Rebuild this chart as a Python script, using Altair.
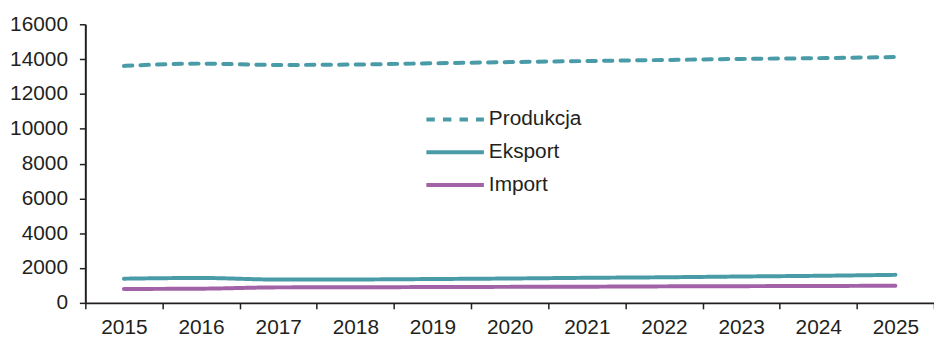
import altair as alt
import pandas as pd

years = ["2015", "2016", "2017", "2018", "2019", "2020", "2021", "2022", "2023", "2024", "2025"]
produkcja = [13610, 13740, 13665, 13690, 13760, 13830, 13890, 13950, 14010, 14055, 14120]
eksport = [1390, 1430, 1340, 1345, 1370, 1400, 1440, 1470, 1515, 1555, 1610]
import_ = [800, 815, 890, 895, 910, 920, 930, 948, 960, 970, 985]

series_names = ["Produkcja", "Eksport", "Import"]
series_colors = ["#4a9ba8", "#4a9ba8", "#a262a8"]
series_dash = [[8.5, 8.2], [1, 0], [1, 0]]

rows = []
for name, vals in zip(series_names, [produkcja, eksport, import_]):
    for y, v in zip(years, vals):
        rows.append({"year": y, "value": v, "series": name})
df = pd.DataFrame(rows)

FONT = "Liberation Sans"
AX = "#231f20"

chart = alt.Chart(df).mark_line(strokeWidth=4, strokeCap="round", interpolate="monotone").encode(
    x=alt.X("year:O", title=None, sort=years,
            scale=alt.Scale(paddingInner=0, paddingOuter=0),
            axis=alt.Axis(labelAngle=0, tickBand="extent", tickSize=6, tickWidth=1.5,
                          tickColor=AX, domainColor=AX, domainWidth=2,
                          labelFont=FONT, labelFontSize=21, labelColor=AX,
                          labelPadding=8, grid=False)),
    y=alt.Y("value:Q", title=None,
            scale=alt.Scale(domain=[0, 16000], nice=False),
            axis=alt.Axis(values=list(range(0, 16001, 2000)), format="d", tickSize=6, tickWidth=1.5,
                          tickColor=AX, domainColor=AX, domainWidth=2,
                          labelFont=FONT, labelFontSize=21, labelColor=AX,
                          labelPadding=12, grid=False)),
    color=alt.Color("series:N", sort=series_names,
                    scale=alt.Scale(domain=series_names, range=series_colors),
                    legend=alt.Legend(title=None, orient="none", legendX=342, legendY=86,
                                      symbolType="stroke", symbolSize=3364, symbolStrokeWidth=4,
                                      clipHeight=20, rowPadding=12, labelOffset=3,
                                      labelFont=FONT, labelFontSize=21, labelColor=AX)),
    strokeDash=alt.StrokeDash("series:N", sort=series_names,
                              scale=alt.Scale(domain=series_names, range=series_dash),
                              legend=None),
).properties(
    width=856, height=281,
    autosize=alt.AutoSizeParams(type="none"),
    padding={"left": 78, "top": 15, "right": 0, "bottom": 34},
).configure_view(stroke=None)

chart.save("out.html", embed_options={"renderer": "svg", "actions": False})
